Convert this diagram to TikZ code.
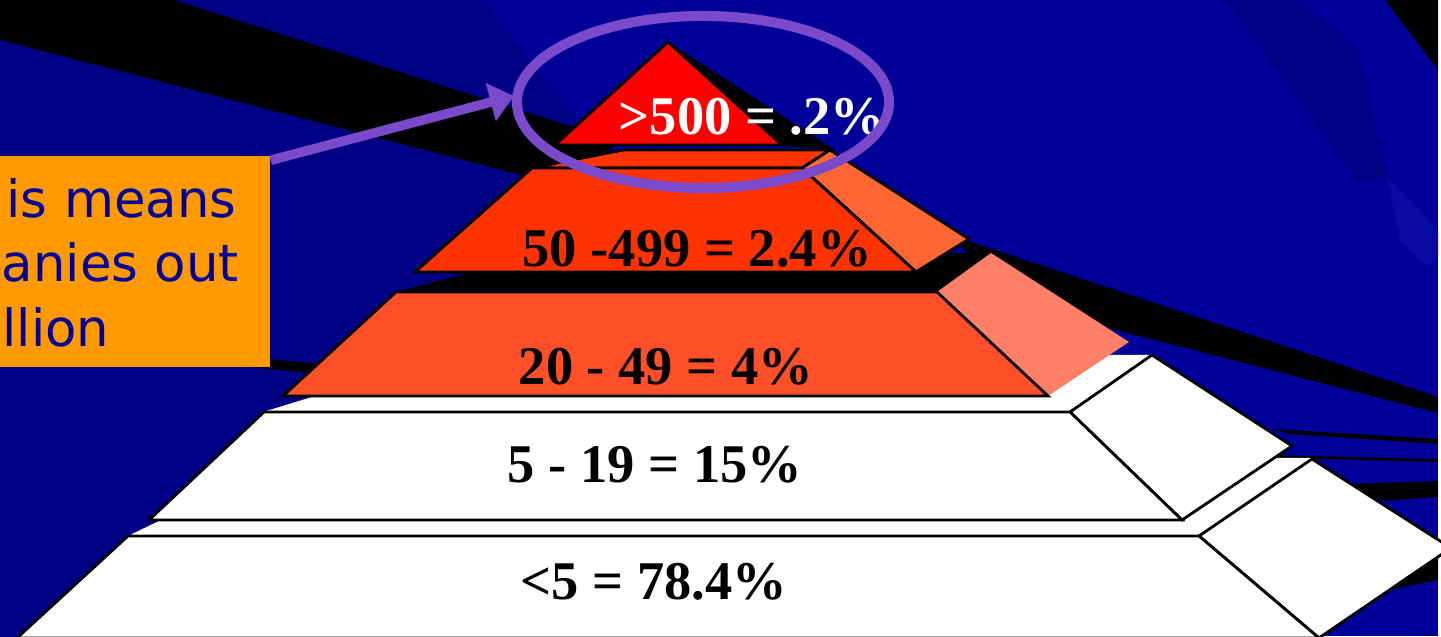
\documentclass[tikz,border=0pt]{standalone}
\usepackage{fontspec}
\setmainfont{Liberation Serif}
\newfontfamily\notefont{DejaVu Sans}
\usepackage{tikz}
\usetikzlibrary{arrows.meta,shapes.geometric}
\definecolor{slblue}{HTML}{000098}
\definecolor{sldark}{HTML}{000084}
\definecolor{slnavy}{HTML}{000099}
\definecolor{sllight}{HTML}{0A0AA0}
\definecolor{slred}{HTML}{FF0000}
\definecolor{slorange}{HTML}{FF3300}
\definecolor{slside}{HTML}{FF6633}
\definecolor{slcoral}{HTML}{FF5029}
\definecolor{slsalmon}{HTML}{FF8066}
\definecolor{slbox}{HTML}{FF9900}
\definecolor{slpurple}{HTML}{7A4ACB}

\begin{document}
\begin{tikzpicture}[x=0.01cm,y=-0.01cm,
  face/.style={draw=black,line width=0.8pt,line join=miter},
  shade/.style={fill=black},
  lbl/.style={font=\fontsize{15.5}{18}\selectfont\bfseries,anchor=base,inner sep=0pt},
  notetext/.style={font=\notefont\fontsize{14.6}{18}\selectfont,text=slnavy,anchor=base west,
    inner sep=0pt},
  pointer/.style={-{Triangle[length=0.24cm,width=0.38cm]},line width=2.7pt,slpurple}]
  \useasboundingbox (0,0) rectangle (1441,637);
  \clip (0,0) rectangle (1441,637);
  % slide background
  \fill[white] (0,0) rectangle (1441,637);
  \fill[slblue] (0,0) rectangle (1438,636);
  \fill[sldark] (0,0) -- (482,0) -- (600,150) -- (400,400) -- (100,637) -- (0,637) -- cycle;
  \fill[sldark] (1227,0) -- (1300,0) -- (1358,53) -- (1387,177) -- (1357,180) -- cycle;
  \fill[sllight] (1387,177) -- (1413,203) -- (1438,230) -- (1438,257) -- (1427,267) -- (1400,240) -- cycle;
  \fill[shade] (0,0) -- (174,0) -- (620,142) -- (560,185) -- (0,40) -- cycle;
  \fill[shade] (200,352) -- (340,366) -- (340,376) -- (200,362) -- cycle;
  \fill[shade] (1385,0) -- (1438,0) -- (1438,70) -- cycle;
  \fill[shade] (950,235) -- (1438,397) -- (1438,413) -- (1100,326) -- (1040,330) -- cycle;
  \fill[shade] (1272,429) -- (1438,439) -- (1438,444) -- (1290,434) -- cycle;
  \fill[shade] (1270,455) -- (1438,459) -- (1438,462) -- (1280,458) -- cycle;
  \fill[shade] (1345,484) -- (1438,481) -- (1438,497) -- (1383,501) -- cycle;
  \fill[shade] (1390,590) -- (1438,557) -- (1438,580) -- cycle;
  % bottom tier
  \fill[white] (128,536) -- (289,458) -- (1312,458) -- (1199,536) -- cycle;
  \draw[face,fill=white] (1199,536) -- (1312,459) -- (1451,548) -- (1319,638) -- cycle;
  \draw[face,fill=white] (128,536) -- (1199,536) -- (1319,638) -- (17,638) -- cycle;
  % second tier
  \fill[white] (263,412) -- (449,355) -- (1152,355) -- (1070,412) -- cycle;
  \draw[face,fill=white] (1070,412) -- (1152,355) -- (1292,446) -- (1182,520) -- cycle;
  \draw[face,fill=white] (264,412) -- (1070,412) -- (1182,520) -- (149,520) -- cycle;
  % third tier
  \fill[shade] (396,292) -- (543,253) -- (991,253) -- (937,292) -- cycle;
  \fill[slsalmon] (937,292) -- (991,253) -- (1129,342) -- (1048,396) -- cycle;
  \draw[face,fill=slcoral] (396,292) -- (937,292) -- (1048,396) -- (283,396) -- cycle;
  % fourth tier
  \draw[face,fill=slorange] (532,168) -- (623,150) -- (830,150) -- (802,168) -- cycle;
  \draw[face,fill=slside] (802,168) -- (830,150) -- (969,239) -- (916,272) -- cycle;
  \draw[face,fill=slorange] (532,168) -- (802,168) -- (916,272) -- (415,272) -- cycle;
  % apex
  \fill[shade] (656,34) -- (835,150) -- (783,146) -- (668,42) -- cycle;
  \draw[face,fill=slred] (555,145) -- (668,42) -- (782,145) -- cycle;
  % tier labels
  \node[lbl,text=white] (top) at (752,135) {>500 = .2\%};
  \node[lbl] (large) at (697,267) {50 -499 = 2.4\%};
  \node[lbl] (medium) at (666,385) {20 - 49 = 4\%};
  \node[lbl] (small) at (655,483) {5 - 19 = 15\%};
  \node[lbl] (micro) at (654,600) {<5 = 78.4\%};
  % callout
  \node[fill=slbox,minimum width=3cm,minimum height=2.11cm,inner sep=0pt] (note) at (120,261.5) {};
  \node[notetext] (line1) at (6,218) {is means};
  \node[notetext] (line2) at (1,282) {anies out};
  \node[notetext] (line3) at (2,347) {llion};
  \coordinate (tip) at (514,96);
  \draw[pointer] ([yshift=-0.05cm]note.north east) -- (tip);
  \node[draw=slpurple,line width=2.85pt,ellipse,minimum width=3.72cm,minimum height=1.72cm,
    inner sep=0pt] (ring) at (703,102) {};
\end{tikzpicture}
\end{document}
